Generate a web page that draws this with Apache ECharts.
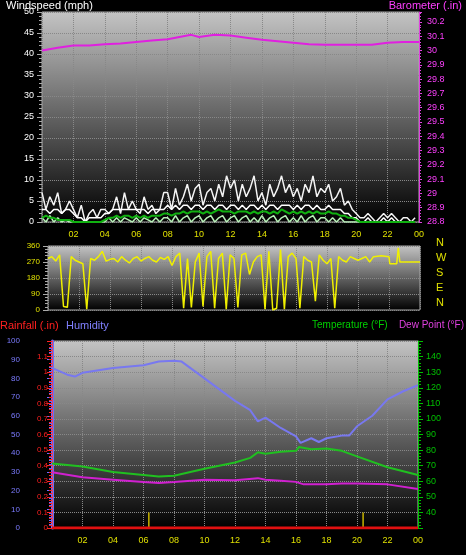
<!DOCTYPE html>
<html><head><meta charset="utf-8">
<script src="https://cdn.jsdelivr.net/npm/echarts@6/dist/echarts.min.js"></script>
<style>html,body{margin:0;background:#000}#c{width:466px;height:555px}</style>
</head><body><div id="c"></div>
<script>
// hourly x ticks
const hourTicks = ['02','04','06','08','10','12','14','16','18','20','22','00'];
// 15-minute samples (step 0.25 h)
const windGust = [7,3,6,4,7,2,3,5, 3,1,4,0,2,3,1,3, 3,2,3,6,2,7,3,5, 3,2,6,3,4,2,3,7,
 7,3,8,4,6,9,5,8, 9,4,7,8,5,9,6,11, 8,10,5,9,6,8,11,5, 7,4,9,6,8,11,7,9,
 6,8,5,9,7,11,6,8, 7,9,5,6,8,4,5,3, 2,1,1,2,1,0,1,2, 1,2,1,0,1,1,0,1];
const windBase = [3,3,2,3,3,2,3,3, 2,1,1,0,1,1,1,1, 2,2,3,3,3,3,3,3, 3,3,3,2,3,3,3,3,
 4,3,4,3,4,4,3,4, 4,3,4,4,3,4,4,3, 4,4,3,4,3,4,4,3, 4,3,4,4,3,4,4,4,
 3,4,3,4,4,3,4,3, 3,4,3,3,3,2,2,1, 1,0,0,1,0,0,0,1, 0,1,0,0,0,0,0,0];
const windAvg = [1,1.5,1,1,0.5,0.5,0.5,0.5, 0,0,0,0,0,0,0,0, 0.5,1,1,1.5,1,1.5,1.5,1, 1.5,1,1.5,1,1.5,1.5,1.5,2,
 2,1.5,2,2,2.5,2,2.5,2.5, 2.5,2,2.5,2,2.5,3,2.5,2.5, 2.5,2,2.5,2.5,2.5,2,2.5,2, 2.5,2.5,2,2.5,2,3,2.5,2,
 2.5,2,2.5,2,2.5,2,2.5,2, 2,2.5,2,2,1.5,1.5,1,1, 0.5,0,0,0,0,0,0,0, 0,0,0,0,0,0,0,0];
const windLull = [1,0,1.5,0,1,0,0.5,0, 0,0,0,0,0,0,0,0, 0,1,0,1,0,1,0.5,0, 1,0,1,0.5,0,1,0,1,
 1,0,1.5,0,1,1.5,0,1, 1.5,0,1,1.5,0,1,1.5,0, 1,1.5,0,1,1.5,0,1,0, 1.5,0,1,1.5,0,1,1.5,0,
 1,0,1.5,0,1,1.5,0,1, 1,0,1,0,1,0,0,0, 0,0,0,0,0,0,0,0, 0,0,0,0,0,0,0,0];
const windDir = [290,300,275,310,20,15,300,280, 270,260,5,290,280,300,330,275,
 285,290,270,300,280,265,290,300, 275,290,300,280,270,295,285,300,
 250,300,320,10,290,15,270,320, 20,300,330,10,290,320,5,310,
 290,15,310,320,200,270,300,310, 5,330,0,10,340,5,300,320,
 290,10,300,280,270,50,310,280, 260,290,10,300,280,270,300,290, 280,290,300,270];
const windDirTail = [[21,300],[21.5,305],[22,300],[22.05,260],[22.5,260],[22.6,350],[22.7,270],[24,270]];
// hourly-ish readings [hour, value]
const baro = [[0,30.0],[1,30.02],[2,30.035],[3,30.035],[4,30.045],[5,30.05],[6,30.06],[7,30.07],[8,30.08],[9,30.1],[9.5,30.11],[10,30.095],[11,30.11],[12,30.105],[13,30.09],[14,30.075],[15,30.065],[16,30.055],[17,30.045],[18,30.04],[19,30.04],[20,30.04],[21,30.04],[22,30.055],[23,30.06],[24,30.06]];
const temperature = [[0,71.4],[2,69.5],[4,66],[6,64],[7,63],[8,63.5],[10,68],[12,72],[13,75],[13.5,78.6],[14,77.6],[15,79],[16,79.5],[16.2,82],[17,80.5],[18,81],[19,79.5],[20,76],[22,69],[24,64]];
const dewPoint = [[0,65.8],[2,62.5],[4,61],[6,59.5],[7,58.8],[8,59.5],[10,61],[12,60.7],[13.5,62],[14,61],[15,60.3],[16,59.6],[16.5,58],[18,58],[19,58.5],[20,58.5],[22,58],[24,55]];
const humidity = [[0,85.6],[1,82],[1.5,81],[2,83],[4,85.6],[6,87],[7,89],[8,89.5],[8.5,89],[10,80],[12,68],[13,63],[13.5,57],[14,59],[15,53.5],[16,49],[16.3,45.5],[17,48],[17.5,46],[18,48],[19,49.4],[19.5,49.5],[20,54.4],[21,60],[22,68.8],[23,73],[24,76.4]];
const rainfall = [[0,0],[24,0]];
const rainRate = [[6.35,0],[6.35,0.1],[6.36,null],[20.4,0],[20.4,0.1]];

const q = (arr) => arr.map((v,i)=>[i*0.25, v]);
const bg = {type:'linear',x:0,y:0,x2:0,y2:1,colorStops:[{offset:0,color:'#c4c4c4'},{offset:1,color:'#000'}]};
const F = 'Liberation Sans';
const gl = {show:true,lineStyle:{color:'#888',type:'dotted',width:1}};
function xAx(g, show){
  return {type:'value',gridIndex:g,min:0,max:24,interval:2,
    axisLine:{show:false},axisTick:{show:false},splitLine:gl,
    axisLabel:{show:show,color:'#e0e000',fontSize:9,fontFamily:F,
      formatter:v=> v===0?'':hourTicks[v/2-1]}};
}
function yAx(g,o){
  return Object.assign({type:'value',gridIndex:g,axisTick:{show:true,length:3},
    minorTick:{show:true,length:2},splitLine:{show:false},
    axisLabel:{fontSize:9,fontFamily:F,margin:6}},o);
}
const opt = {
  backgroundColor:'#000',animation:false,
  grid:[
    {left:42,right:47,top:12,bottom:333,show:true,backgroundColor:bg,borderColor:'#aaa'},
    {left:48,right:46,top:246,bottom:245,show:true,backgroundColor:bg,borderColor:'#aaa'},
    {left:52,right:48,top:341,bottom:27,show:true,backgroundColor:bg,borderColor:'#aaa'}
  ],
  xAxis:[xAx(0,true),xAx(1,false),xAx(2,true)],
  yAxis:[
    yAx(0,{position:'left',min:0,max:50,interval:5,axisLine:{show:false},splitLine:gl,axisLabel:{color:'#fff',fontSize:9,fontFamily:F},axisTick:{show:true,lineStyle:{color:'#aaa'}},minorTick:{show:true,lineStyle:{color:'#aaa'}}}),
    yAx(0,{position:'right',min:28.8,max:30.27,interval:0.1,axisLine:{show:true,lineStyle:{color:'#e040e0'}},axisLabel:{color:'#ff40ff',fontSize:9,fontFamily:F,showMaxLabel:false,formatter:v=>+v.toFixed(1)}}),
    yAx(1,{position:'left',min:0,max:360,interval:90,axisLine:{show:false},splitLine:gl,axisLabel:{color:'#e0e000',fontSize:8,fontFamily:F},axisTick:{show:true,lineStyle:{color:'#aaa'}},minorTick:{show:true,lineStyle:{color:'#aaa'}}}),
    yAx(2,{position:'left',min:0,max:100,interval:10,offset:24,axisLine:{show:true,lineStyle:{color:'#6a6aff',width:3}},axisLabel:{color:'#7b7bff',fontSize:8,fontFamily:F},axisTick:{show:true,lineStyle:{color:'#6a6aff'}},minorTick:{show:true,lineStyle:{color:'#6a6aff'}}}),
    yAx(2,{position:'left',offset:0,min:0,max:1.2,interval:0.1,axisLine:{show:true,lineStyle:{color:'#ff4040',type:'dotted'}},splitLine:gl,axisLabel:{color:'#ff2020',fontSize:8,fontFamily:F,margin:4,showMaxLabel:false,formatter:v=>+v.toFixed(1)},axisTick:{show:true,lineStyle:{color:'#ff2020'}},minorTick:{show:true,lineStyle:{color:'#ff2020'}}}),
    yAx(2,{position:'right',min:30,max:150,interval:10,axisLine:{show:true,lineStyle:{color:'#00c000'}},axisLabel:{color:'#00c000',fontSize:9,fontFamily:F,showMinLabel:false,showMaxLabel:false},axisTick:{show:true,lineStyle:{color:'#00c000'}},minorTick:{show:true,lineStyle:{color:'#00c000'}}})
  ],
  graphic:[
    {type:'text',left:6,top:0,style:{text:'Windspeed (mph)',fill:'#fff',font:'11px '+F}},
    {type:'text',right:4,top:0,style:{text:'Barometer (.in)',fill:'#ff40ff',font:'11px '+F}},
    {type:'text',left:436,top:237,style:{text:'N\n\nW\n\nS\n\nE\n\nN',fill:'#e0e000',font:'11px '+F,lineHeight:7.5}},
    {type:'text',left:0,top:320,style:{text:'Rainfall (.in)',fill:'#ff2020',font:'11px '+F}},
    {type:'text',left:66,top:320,style:{text:'Humidity',fill:'#8080ff',font:'11px '+F}},
    {type:'text',left:312,top:320,style:{text:'Temperature (°F)',fill:'#00d000',font:'10px '+F}},
    {type:'text',right:2,top:320,style:{text:'Dew Point (°F)',fill:'#e040e0',font:'10px '+F}}
  ],
  series:[
    {type:'line',xAxisIndex:0,yAxisIndex:1,data:baro,showSymbol:false,lineStyle:{color:'#e020e0',width:2}},
    {type:'line',xAxisIndex:0,yAxisIndex:0,data:q(windGust),showSymbol:false,lineStyle:{color:'#f4f4f4',width:1.5}},
    {type:'line',xAxisIndex:0,yAxisIndex:0,data:q(windBase),showSymbol:false,lineStyle:{color:'#ffffff',width:1.5}},
    {type:'line',xAxisIndex:0,yAxisIndex:0,data:q(windLull),showSymbol:false,lineStyle:{color:'#b8f0b8',width:1.5}},
    {type:'line',xAxisIndex:0,yAxisIndex:0,data:q(windAvg),showSymbol:false,lineStyle:{color:'#10b010',width:2}},
    {type:'line',xAxisIndex:1,yAxisIndex:2,data:q(windDir).concat(windDirTail),showSymbol:false,lineStyle:{color:'#f0f000',width:1.5}},
    {type:'line',xAxisIndex:2,yAxisIndex:3,data:humidity,showSymbol:false,lineStyle:{color:'#7878f0',width:2}},
    {type:'line',xAxisIndex:2,yAxisIndex:5,data:temperature,showSymbol:false,lineStyle:{color:'#20c020',width:2}},
    {type:'line',xAxisIndex:2,yAxisIndex:5,data:dewPoint,showSymbol:false,lineStyle:{color:'#d020d0',width:2}},
    {type:'line',xAxisIndex:2,yAxisIndex:4,data:rainRate,showSymbol:false,connectNulls:false,lineStyle:{color:'#c8b400',width:1.5}},
    {type:'line',xAxisIndex:2,yAxisIndex:4,data:rainfall,showSymbol:false,lineStyle:{color:'#e01010',width:3}}
  ]
};
echarts.init(document.getElementById('c')).setOption(opt);
</script></body></html>
